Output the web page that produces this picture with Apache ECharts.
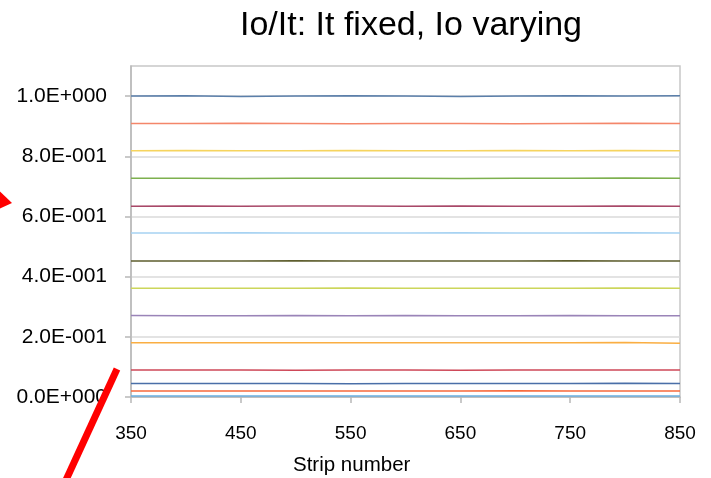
<!DOCTYPE html>
<html>
<head>
<meta charset="utf-8">
<script src="https://cdn.jsdelivr.net/npm/echarts@6/dist/echarts.min.js"></script>
<style>
html,body{margin:0;padding:0;background:#fff;}
#chart{width:711px;height:478px;}
</style>
</head>
<body>
<div id="chart"></div>
<script>
// Strip numbers (x values)
var strips = [350, 400, 450, 500, 550, 600, 650, 700, 750, 800, 850];
// Y tick label values
var yTicks = [0, 0.2, 0.4, 0.6, 0.8, 1.0];
// X tick values
var xTicks = [350, 450, 550, 650, 750, 850];

// Io/It ratio per strip, one array per Io setting (top to bottom)
var s01 = [1.000, 1.001, 0.999, 1.000, 1.001, 1.000, 0.999, 1.000, 1.001, 1.000, 1.001];
var s02 = [0.909, 0.909, 0.910, 0.909, 0.908, 0.909, 0.909, 0.908, 0.909, 0.910, 0.909];
var s03 = [0.818, 0.819, 0.818, 0.818, 0.819, 0.818, 0.818, 0.819, 0.818, 0.819, 0.818];
var s04 = [0.727, 0.727, 0.726, 0.727, 0.727, 0.727, 0.726, 0.727, 0.727, 0.728, 0.727];
var s05 = [0.634, 0.635, 0.634, 0.635, 0.635, 0.634, 0.635, 0.634, 0.634, 0.635, 0.634];
var s06 = [0.545, 0.545, 0.546, 0.545, 0.545, 0.545, 0.546, 0.545, 0.545, 0.546, 0.545];
var s07 = [0.452, 0.452, 0.452, 0.453, 0.452, 0.452, 0.452, 0.452, 0.453, 0.452, 0.452];
var s08 = [0.361, 0.361, 0.361, 0.361, 0.362, 0.361, 0.361, 0.361, 0.361, 0.362, 0.361];
var s09 = [0.271, 0.270, 0.270, 0.271, 0.270, 0.271, 0.270, 0.270, 0.271, 0.270, 0.270];
var s10 = [0.180, 0.180, 0.180, 0.180, 0.180, 0.180, 0.180, 0.180, 0.180, 0.181, 0.179];
var s11 = [0.090, 0.090, 0.090, 0.089, 0.090, 0.090, 0.089, 0.090, 0.090, 0.090, 0.090];
var s12 = [0.045, 0.045, 0.045, 0.045, 0.044, 0.045, 0.045, 0.045, 0.045, 0.046, 0.045];
var s13 = [0.020, 0.020, 0.020, 0.020, 0.020, 0.020, 0.020, 0.021, 0.020, 0.020, 0.020];
var s14 = [0.003, 0.003, 0.003, 0.003, 0.003, 0.003, 0.003, 0.003, 0.003, 0.003, 0.003];

var seriesValues = [s01, s02, s03, s04, s05, s06, s07, s08, s09, s10, s11, s12, s13, s14];
var seriesColors = ['#5B7FAA', '#F4866A', '#F6D45E', '#7DB04E', '#A84868', '#A6D2F2', '#5E5E2E',
                    '#CCD65A', '#9A84B8', '#FAAE42', '#CE4858', '#4A6FA8', '#F86A3C', '#6AAEE0'];

function sciLabel(v) {
  if (Math.abs(v) < 1e-12) return '0.0E+000';
  var e = Math.floor(Math.log10(Math.abs(v)) + 1e-9);
  var m = v / Math.pow(10, e);
  var sign = e < 0 ? '-' : '+';
  var a = String(Math.abs(e));
  while (a.length < 3) a = '0' + a;
  return m.toFixed(1) + 'E' + sign + a;
}

var series = seriesValues.map(function (vals, i) {
  return {
    type: 'line',
    data: strips.map(function (x, j) { return [x, vals[j]]; }),
    showSymbol: false,
    symbol: 'none',
    lineStyle: { color: seriesColors[i], width: 1.5 },
    itemStyle: { color: seriesColors[i] },
    animation: false,
    z: 3
  };
});

var chart = echarts.init(document.getElementById('chart'));
chart.setOption({
  animation: false,
  backgroundColor: '#ffffff',
  title: [{
    text: 'Io/It: It fixed, Io varying',
    left: 406, textAlign: 'center', top: 4,
    textStyle: { fontFamily: 'Liberation Sans, Arial', fontSize: 34, fontWeight: 'normal', color: '#000' }
  }, {
    text: 'Strip number',
    left: 288, top: 450,
    textStyle: { fontFamily: 'Liberation Sans, Arial', fontSize: 20.5, fontWeight: 'normal', color: '#000' }
  }],
  grid: {
    left: 131, right: 31, top: 66, bottom: 81,
    show: true, borderColor: '#C8C8C8', borderWidth: 1.5, backgroundColor: 'transparent'
  },
  xAxis: {
    type: 'value', min: 350, max: 850, interval: 100,
    axisLine: { show: true, lineStyle: { color: '#B8B8B8', width: 1.5 } },
    axisTick: { show: true, length: 6, lineStyle: { color: '#B8B8B8', width: 1.5 }, customValues: xTicks },
    axisLabel: { customValues: xTicks, margin: 27, fontFamily: 'Liberation Sans, Arial', fontSize: 19, color: '#000' },
    splitLine: { show: false }
  },
  yAxis: {
    type: 'value', min: 0, max: 1.1, interval: 0.2,
    axisLine: { show: true, lineStyle: { color: '#B8B8B8', width: 1.5 } },
    axisTick: { show: true, length: 6, lineStyle: { color: '#B8B8B8', width: 1.5 }, customValues: yTicks },
    axisLabel: { customValues: yTicks, margin: 24, fontFamily: 'Liberation Sans, Arial', fontSize: 21, color: '#000',
      formatter: function (v) { return sciLabel(v); } },
    splitLine: { show: true, lineStyle: { color: '#DADADA', width: 1.5 } }
  },
  graphic: [
    { type: 'line', shape: { x1: 66, y1: 480, x2: 117, y2: 369 },
      style: { stroke: '#FF0000', lineWidth: 7 }, z: 100 },
    { type: 'polygon', shape: { points: [[0, 191.5], [12, 203], [0, 208.5]] },
      style: { fill: '#FF0000' }, z: 100 }
  ],
  series: series
});
</script>
</body>
</html>
